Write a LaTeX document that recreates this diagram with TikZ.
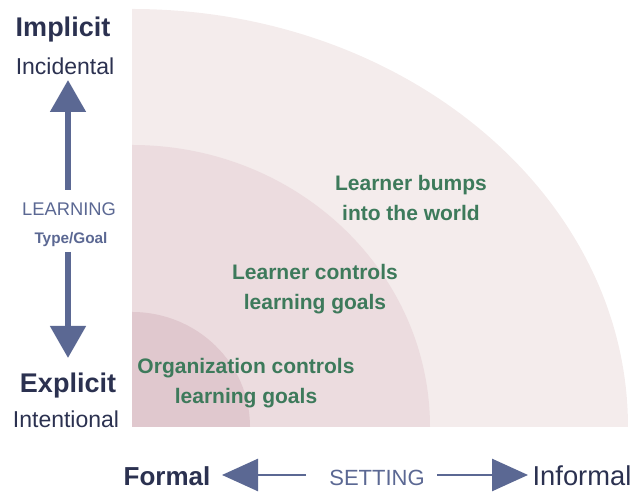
\documentclass[tikz,border=0pt]{standalone}
\usepackage{fontspec}
\setmainfont{Liberation Sans}
\usepackage{tikz}
\usetikzlibrary{arrows.meta,positioning}

\definecolor{navytext}{HTML}{2B3150}
\definecolor{arrowblue}{HTML}{5B6893}
\definecolor{zonegreen}{HTML}{3D7A5B}
\definecolor{zoneout}{HTML}{F4ECEC}
\definecolor{zonemid}{HTML}{ECDCDF}
\definecolor{zonein}{HTML}{E0C8CE}

\begin{document}
\begin{tikzpicture}[x=0.75pt,y=0.75pt,
  zonetext/.style={anchor=north, inner sep=0pt, align=center, text=zonegreen,
    font=\bfseries\fontsize{15.75}{22.5}\selectfont},
  bigword/.style={anchor=base, inner sep=0pt, text=navytext, font=\bfseries\fontsize{20.25}{24}\selectfont},
  smallword/.style={anchor=base, inner sep=0pt, text=navytext, font=\fontsize{17.25}{20}\selectfont},
  axisword/.style={anchor=base, inner sep=0pt, text=arrowblue},
  fatarrow/.style={arrowblue, line width=4.5pt, -{Triangle[length=24pt,width=26pt]}},
  thinarrow/.style={arrowblue, line width=2pt, -{Triangle[length=27pt,width=24pt]}}]
  \useasboundingbox (0,0) rectangle (637,495);

  % nested zones, all quarter ellipses around the corner
  \coordinate (corner) at (132,68);
  \fill[zoneout] (corner) -- ++(496,0) arc[start angle=0, end angle=90, x radius=496, y radius=418] -- cycle;
  \fill[zonemid] (corner) -- ++(298,0) arc[start angle=0, end angle=90, x radius=298, y radius=282] -- cycle;
  \fill[zonein] (corner) -- ++(118,0) arc[start angle=0, end angle=90, x radius=118, y radius=115] -- cycle;

  \node[zonetext] (world) at (411,320) {Learner bumps\\into the world};
  \node[zonetext] (learner) at (315,231) {Learner controls\\learning goals};
  \node[zonetext] (org) at (246,137) {Organization controls\\learning goals};

  % learning axis
  \node[bigword] (implicit) at (63,458) {Implicit};
  \node[smallword] (incidental) at (65,420) {Incidental};
  \node[bigword] (explicit) at (68,102) {Explicit};
  \node[smallword] (intentional) at (66,67) {Intentional};
  \node[axisword, font=\fontsize{13.75}{16}\selectfont] (learning) at (69,279) {LEARNING};
  \node[axisword, font=\bfseries\fontsize{11.5}{14}\selectfont] (goal) at (71,251) {Type/Goal};
  \coordinate (upfoot) at (68,305);
  \coordinate (uptip) at (68,415);
  \coordinate (downfoot) at (68,243);
  \coordinate (downtip) at (68,137);
  \draw[fatarrow] (upfoot) -- (uptip);
  \draw[fatarrow] (downfoot) -- (downtip);

  % setting axis
  \node[bigword, font=\bfseries\fontsize{19.5}{23}\selectfont] (formal) at (167,9) {Formal};
  \node[anchor=base, inner sep=0pt, text=navytext, font=\fontsize{20.5}{24}\selectfont] (informal) at (582,9) {Informal};
  \node[axisword, font=\fontsize{16.5}{19}\selectfont] (setting) at (377,9) {SETTING};
  \coordinate (leftfoot) at (306,20);
  \coordinate (lefttip) at (222,20);
  \coordinate (rightfoot) at (437,20);
  \coordinate (righttip) at (528,20);
  \draw[thinarrow] (leftfoot) -- (lefttip);
  \draw[thinarrow] (rightfoot) -- (righttip);
\end{tikzpicture}
\end{document}
